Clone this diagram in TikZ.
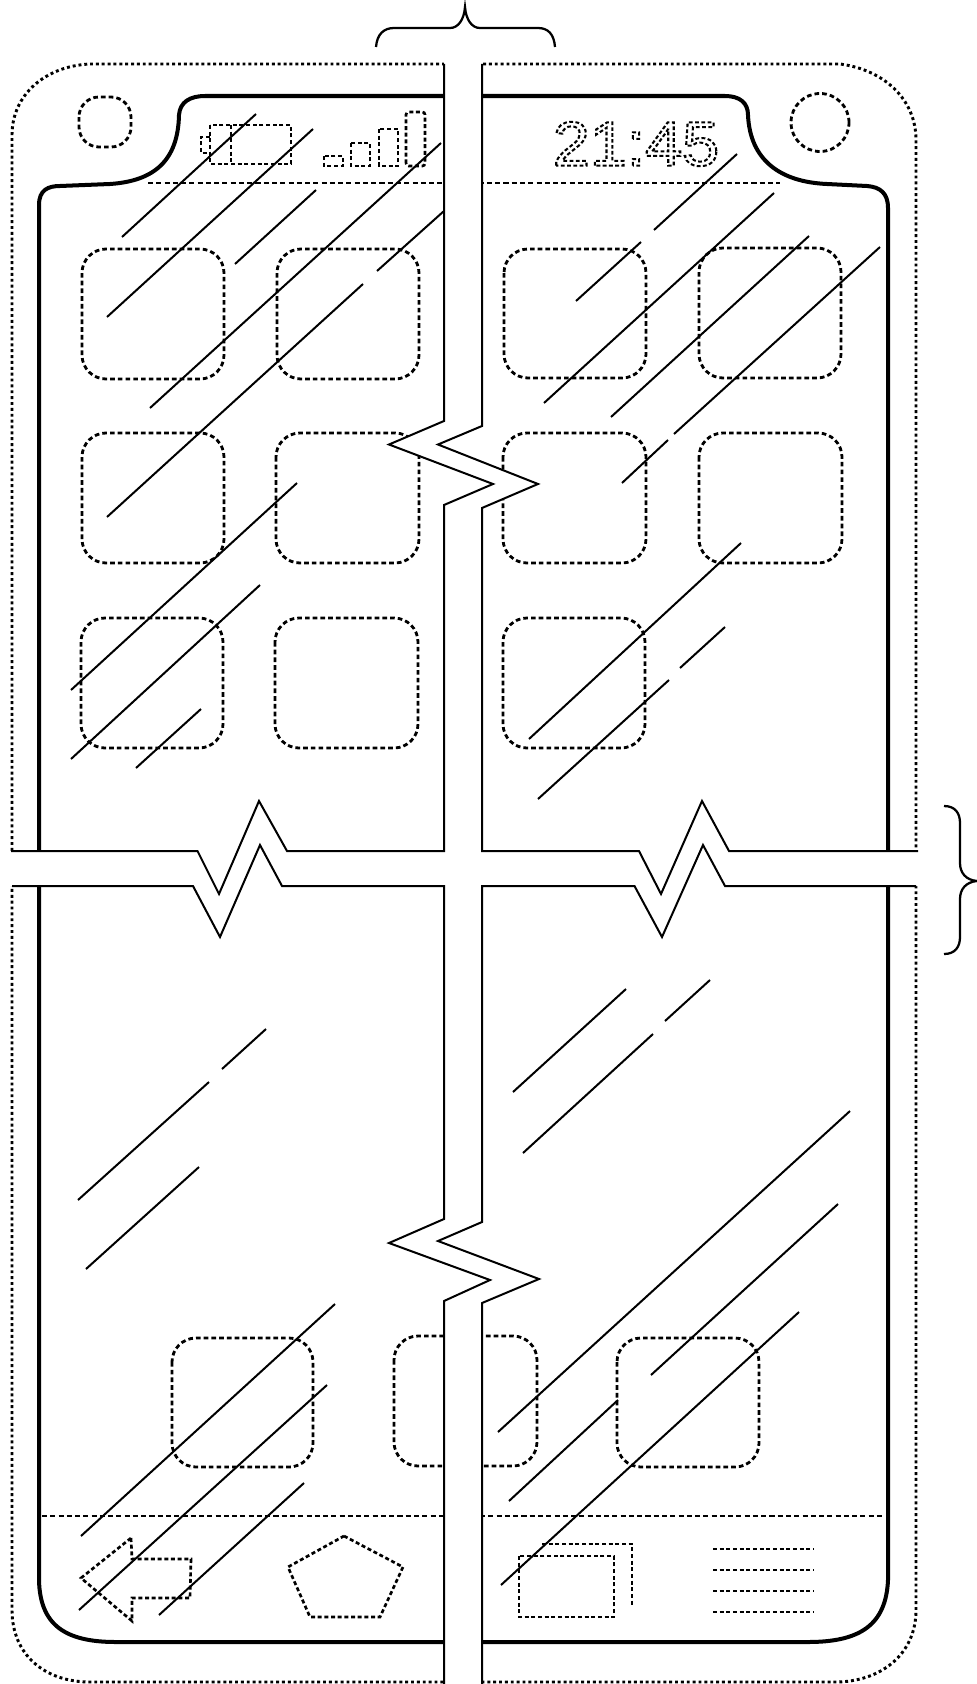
\documentclass[tikz,border=0pt]{standalone}
\usepackage{fontspec}
\setmainfont{Liberation Sans}
\begin{document}
\begin{tikzpicture}[x=0.75pt,y=-0.75pt,line join=miter,
  framedots/.style={line width=2.2pt,dash pattern=on 2.2pt off 2.2pt},
  icondash/.style={line width=2.1pt,dash pattern=on 3.5pt off 2.3pt},
  smalldash/.style={line width=2pt,dash pattern=on 3pt off 2pt},
  rule/.style={line width=2.2pt,dash pattern=on 3.8pt off 2.4pt},
  screen/.style={line width=3pt},
  hatch/.style={line width=1.5pt},
  breakline/.style={line width=1.5pt},
  brace/.style={line width=1.7pt},
  gapfill/.style={fill=white,draw=none},
  app/.style={icondash,rounded corners=24*0.75pt}]
\useasboundingbox (0,0) rectangle (977,1684);

% outer body
\draw[framedots] (90,64) -- (840,64) .. controls (885,70) and (916,100) .. (916,140)
  -- (916,1610) .. controls (916,1655) and (880,1682) .. (835,1682)
  -- (90,1682) .. controls (45,1682) and (12,1655) .. (12,1610)
  -- (12,135) .. controls (12,95) and (45,66) .. (90,64);

% screen outline
\draw[screen] (39,205) .. controls (39,190) and (48,186) .. (60,186)
  -- (110,184) .. controls (155,181) and (178,160) .. (179,115)
  .. controls (180,102) and (190,96) .. (205,96)
  -- (725,96) .. controls (740,96) and (748,103) .. (748,115)
  .. controls (750,160) and (780,182) .. (827,184)
  -- (867,186) .. controls (880,187) and (888,193) .. (888,208)
  -- (888,1580) .. controls (886,1625) and (860,1642) .. (808,1642)
  -- (116,1642) .. controls (65,1642) and (40,1625) .. (39,1580) -- cycle;

% sensors
\draw[icondash,rounded corners=15pt] (79,97) rectangle (131,147);
\node[draw,icondash,circle,minimum size=43.5pt,inner sep=0pt] (camera) at (820,122.5) {};

% status and dock rules
\draw[rule] (148,183) -- (780,183);
\draw[rule] (42,1516) -- (885,1516);

% battery
\draw[smalldash] (210,125) rectangle (291,164);
\draw[smalldash] (231,125) -- (231,164);
\draw[smalldash] (210,137) -- (201,137) -- (201,153) -- (210,153);
% signal
\draw[smalldash] (324,156) rectangle (343,166);
\draw[smalldash] (351,143) rectangle (370,166);
\draw[smalldash] (379,129) rectangle (398,166);
\draw[smalldash,rounded corners=2pt] (406,166) -- (406,112) -- (425,112) -- (425,166) -- cycle;

% clock
\node[inner sep=0pt] (clock) at (636,144) {\special{pdf:code q 1 Tr 1.5 w [2.7 1.7] 0 d}\scalebox{1.06}[1]{\fontsize{47}{47}\selectfont 21:45}\special{pdf:code Q}};

% app icons
\draw[app] (82,249) rectangle (224,379);
\draw[app] (277,249) rectangle (419,379);
\draw[app] (504,249) rectangle (646,378);
\draw[app] (699,248) rectangle (841,378);
\draw[app] (82,433) rectangle (224,563);
\draw[app] (276,433) rectangle (419,563);
\draw[app] (503,433) rectangle (646,563);
\draw[app] (699,433) rectangle (842,563);
\draw[app] (81,618) rectangle (223,748);
\draw[app] (275,618) rectangle (418,748);
\draw[app] (503,618) rectangle (645,748);
\draw[app] (172,1338) rectangle (313,1467);
\draw[app] (394,1336) rectangle (537,1466);
\draw[app] (617,1338) rectangle (759,1467);

% dock icons
\draw[smalldash] (131,1538) -- (132,1559) -- (191,1559) -- (190,1598) -- (132,1598) -- (132,1621) -- (81,1578) -- cycle;
\draw[smalldash] (344,1536) -- (403,1567) -- (380,1617) -- (310,1617) -- (288,1567) -- cycle;
\draw[smalldash] (519,1556) rectangle (614,1617);
\draw[smalldash] (542,1544) -- (632,1544) -- (632,1607);
\draw[smalldash] (713,1549) -- (814,1549);
\draw[smalldash] (713,1570) -- (814,1570);
\draw[smalldash] (713,1591) -- (814,1591);
\draw[smalldash] (713,1612) -- (814,1612);

% white breaks
\path[gapfill] (444,60) -- (444,421) -- (389,444.5) -- (493,484) -- (444,505) -- (444,1219)
  -- (389,1243) -- (490,1280) -- (444,1301) -- (444,1684) -- (482,1684) -- (482,1303)
  -- (539,1279) -- (438,1241) -- (482,1222) -- (482,508) -- (538,484) -- (438,444.5)
  -- (482,426) -- (482,60) -- cycle;
\path[gapfill] (8,851) -- (197.5,851) -- (219,894) -- (259,801) -- (287,851) -- (639,851)
  -- (661,894) -- (702,801) -- (729,851) -- (920,851) -- (920,886) -- (725,886) -- (703,845)
  -- (662,937) -- (634.5,886) -- (282,886) -- (260,845) -- (220,937) -- (193,886) -- (8,886) -- cycle;

% glass hatching
\draw[hatch] (122,237) -- (256,114);
\draw[hatch] (107,317) -- (313,129);
\draw[hatch] (235,264) -- (316,190);
\draw[hatch] (150,408) -- (441,143);
\draw[hatch] (377,271) -- (444,211);
\draw[hatch] (107,517) -- (363,284);
\draw[hatch] (71,690) -- (297,483);
\draw[hatch] (71,759) -- (260,585);
\draw[hatch] (136,768) -- (201,709);
\draw[hatch] (654,230) -- (737,154);
\draw[hatch] (576,301) -- (641,242);
\draw[hatch] (544,403) -- (774,193);
\draw[hatch] (611,417) -- (809,236);
\draw[hatch] (674,434) -- (880,247);
\draw[hatch] (622,483) -- (668,440);
\draw[hatch] (529,739) -- (741,543);
\draw[hatch] (680,668) -- (725,627);
\draw[hatch] (538,799) -- (669,680);
\draw[hatch] (222,1069) -- (266,1029);
\draw[hatch] (78,1200) -- (209,1082);
\draw[hatch] (86,1269) -- (199,1167);
\draw[hatch] (513,1092) -- (626,989);
\draw[hatch] (665,1021) -- (710,980);
\draw[hatch] (523,1153) -- (653,1034);
\draw[hatch] (81,1536) -- (335,1304);
\draw[hatch] (79,1610) -- (327,1385);
\draw[hatch] (159,1615) -- (304,1483);
\draw[hatch] (498,1432) -- (850,1111);
\draw[hatch] (651,1375) -- (838,1204);
\draw[hatch] (509,1501) -- (618,1400);
\draw[hatch] (501,1585) -- (799,1312);

% break lines
\draw[breakline] (444,64) -- (444,421) -- (389,444.5) -- (493,484) -- (444,505) -- (444,851)
  -- (287,851) -- (259,801) -- (219,894) -- (197.5,851) -- (11,851);
\draw[breakline] (482,64) -- (482,426) -- (438,444.5) -- (538,484) -- (482,508) -- (482,851)
  -- (639,851) -- (661,894) -- (702,801) -- (729,851) -- (918,851);
\draw[breakline] (444,1684) -- (444,1301) -- (490,1280) -- (389,1243) -- (444,1219) -- (444,886)
  -- (282,886) -- (260,845) -- (220,937) -- (193,886) -- (12,886);
\draw[breakline] (482,1684) -- (482,1303) -- (539,1279) -- (438,1241) -- (482,1222) -- (482,886)
  -- (634.5,886) -- (662,937) -- (703,845) -- (725,886) -- (916,886);

% braces
\draw[brace] (376,47) .. controls (377,34) and (384,28) .. (394,28) -- (450,28)
  .. controls (458,28) and (464,20) .. (465,7) .. controls (466,20) and (472,28) .. (480,28)
  -- (538,28) .. controls (548,28) and (554,34) .. (555,47);
\draw[brace] (944,806) .. controls (955,806) and (960,813) .. (960,823) -- (960,863)
  .. controls (960,873) and (966,880) .. (977,881) .. controls (966,882) and (960,889) .. (960,899)
  -- (960,937) .. controls (960,947) and (955,954) .. (944,954);
\end{tikzpicture}
\end{document}
